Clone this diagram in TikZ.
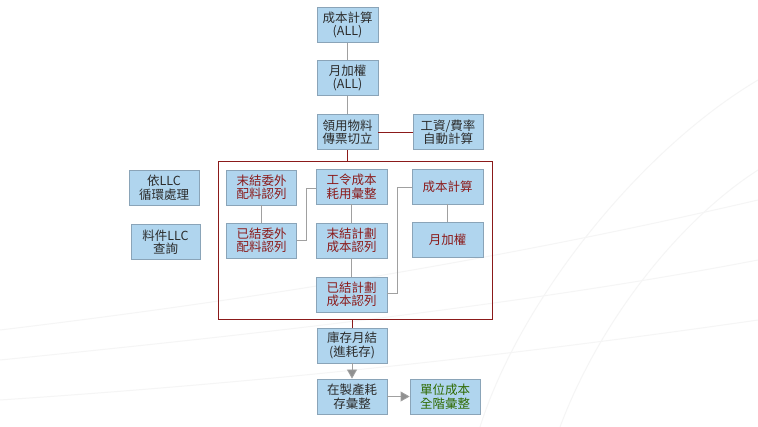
\documentclass[tikz,border=0pt]{standalone}
\usepackage{fontspec}
\newfontfamily\cjk{Noto Sans CJK TC}
\usetikzlibrary{arrows.meta}
\definecolor{boxfill}{HTML}{B0D5EE}
\definecolor{boxline}{HTML}{8AA4B8}
\definecolor{txtgray}{HTML}{2B2B2B}
\definecolor{txtred}{HTML}{8B1A1A}
\definecolor{txtgreen}{HTML}{2F6A00}
\definecolor{frame}{HTML}{8B1A1A}
\definecolor{conn}{HTML}{A0A0A0}
\definecolor{tipc}{HTML}{909090}
\tikzset{
  bx/.style={draw=boxline, fill=boxfill, line width=0.8pt, minimum width=#1, minimum height=35pt, inner sep=0pt, align=center,
    font=\cjk\fontsize{12.5}{13.5}\selectfont, text=txtgray},
  bx/.default=61pt,
  redtxt/.style={text=txtred},
  greentxt/.style={text=txtgreen},
  gline/.style={draw=conn, line width=0.8pt},
  rline/.style={draw=frame, line width=0.9pt},
  garrow/.style={draw=conn, line width=0.8pt, -{Triangle[length=9pt,width=10pt,fill=tipc]}},
}
\begin{document}
\begin{tikzpicture}[x=1pt,y=-1pt]
\useasboundingbox[fill=white] (0,0) rectangle (758,427);
% faint background swooshes
\begin{scope}[draw=black!4, line width=1pt]
\draw (0,330) .. controls (250,300) and (500,260) .. (758,200);
\draw (0,360) .. controls (300,330) and (550,300) .. (758,260);
\draw (0,400) .. controls (300,380) and (550,350) .. (758,320);
\draw (480,427) .. controls (520,300) and (640,150) .. (758,80);
\draw (560,427) .. controls (600,320) and (680,220) .. (758,170);
\end{scope}
% top column
\node[bx] (a) at (347.5,25) {成本計算\\(ALL)};
\node[bx] (b) at (347.5,78) {月加權\\(ALL)};
\node[bx] (c) at (347.5,132) {領用物料\\傳票切立};
\node[bx=70pt] (d) at (448,132) {工資/費率\\自動計算};
% frame
\node[draw=frame, line width=0.9pt, minimum width=274pt, minimum height=158pt, inner sep=0pt] (f) at (355,240) {};
% left boxes
\node[bx=70pt] (e) at (164,188) {依LLC\\循環處理};
\node[bx=69pt] (g) at (165.5,242) {料件LLC\\查詢};
% inside frame
\node[bx=70pt, redtxt] (h) at (261.5,187.5) {末結委外\\配料認列};
\node[bx=70pt, redtxt] (i) at (261.5,240.5) {已結委外\\配料認列};
\node[bx=71pt, redtxt] (j) at (351.5,186.5) {工令成本\\耗用彙整};
\node[bx=71pt, redtxt] (k) at (351.5,240.5) {末結計劃\\成本認列};
\node[bx=71pt, redtxt] (l) at (351.5,294.5) {已結計劃\\成本認列};
\node[bx=71pt, redtxt] (m) at (447.5,186.5) {成本計算};
\node[bx=71pt, redtxt] (n) at (447.5,239.5) {月加權};
% bottom
\node[bx=70pt] (o) at (352,345.5) {庫存月結\\(進耗存)};
\node[bx=70pt] (p) at (352,396.5) {在製產耗\\存彙整};
\node[bx=70pt, greentxt] (q) at (445,396.5) {單位成本\\全階彙整};
% connectors
\draw[gline] (a.south) -- (b.north);
\draw[gline] (b.south) -- (c.north);
\draw[rline] (c.east) -- (d.west);
\draw[rline] (c.south) -- (c.south |- f.north);
\draw[gline] (h.south) -- (i.north);
\coordinate (e1) at (306,240);
\draw[gline] (i.east |- e1) -- (e1) -- (306,188) -- (j.west |- 0,188);
\draw[gline] (j.south) -- (k.north);
\draw[gline] (k.south) -- (l.north);
\coordinate (e2) at (397,293);
\draw[gline] (l.east |- e2) -- (e2) -- (397,187) -- (m.west |- 0,187);
\draw[gline] (m.south) -- (n.north);
\draw[rline] (o.north |- f.south) -- (o.north);
\draw[garrow] (o.south) -- (p.north);
\draw[garrow] (p.east) -- (q.west);
\end{tikzpicture}
\end{document}
